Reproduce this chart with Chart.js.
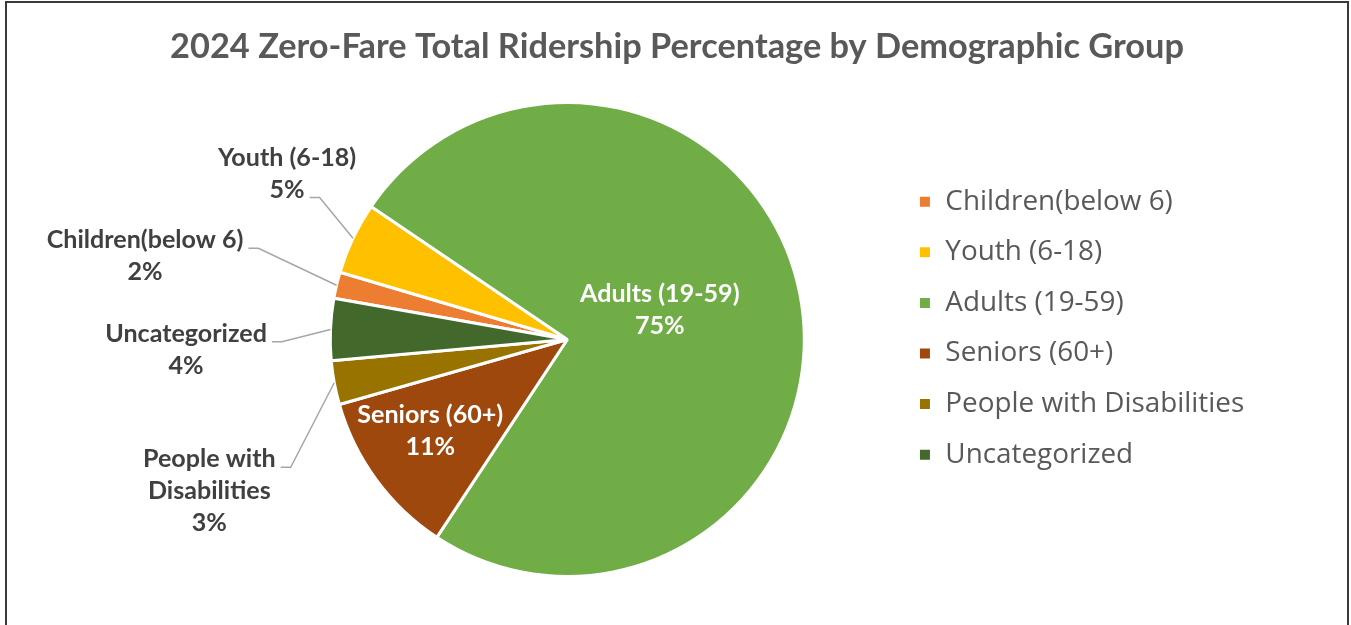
<!DOCTYPE html>
<html>
<head>
<meta charset="utf-8">
<script src="https://cdn.jsdelivr.net/npm/chart.js@4/dist/chart.umd.min.js"></script>
<style>
  html, body { margin: 0; padding: 0; background: #ffffff; overflow: hidden; width: 1351px; height: 625px; }
  #frame { position: absolute; left: 5px; top: 1px; width: 1340px; height: 640px;
           border: 2px solid #3a3a3a; border-bottom: none; background: #ffffff; }
  canvas { display: block; }
</style>
</head>
<body>
<div id="frame"><canvas id="c" width="1340" height="622" style="width:1340px;height:622px"></canvas></div>
<script>
// ---------------- data ----------------
const TITLE = '2024 Zero-Fare Total Ridership Percentage by Demographic Group';
const categories = ['Children(below 6)', 'Youth (6-18)', 'Adults (19-59)', 'Seniors (60+)', 'People with Disabilities', 'Uncategorized'];
const shares = [1.8, 4.9, 74.8, 11.3, 3.0, 4.2];
const sliceColors = ['#ED7D31', '#FFC000', '#70AD47', '#9E480E', '#997300', '#43682B'];

// ---------------- layout / style ----------------
const FONT = 'Lato, "Open Sans", sans-serif';
const LEGEND_FONT = '"Open Sans", Lato, sans-serif';
const CANVAS_W = 1340, CANVAS_H = 622;
const PIE_CX = 560.2, PIE_CY = 336.5, PIE_R = 238.5;   // chart-area half height (incl. border)
const LEGEND_BOX_X = 911.3, LEGEND_STEP = 50.6, LEGEND_FIRST_MID = 198.7;
const LINE_H = 31.8;
// label placement: offset of the first line's baseline from the pie centre
const LABEL_LAYOUT = [
  { dx: -422.2, dy: -91.2, attach: 0 },
  { dx: -280.2, dy: -173.8, attach: 1 },
  { dx: 92.5, dy: -37.8, inside: true },
  { dx: -137.0, dy: 83.8, inside: true },
  { dx: -357.9, dy: 127.8, attach: 0, wrap: 160 },
  { dx: -381.2, dy: 2.2, attach: 0 }
];

function fitSize(text, weight, family, target) {
  const c = document.createElement('canvas').getContext('2d');
  c.font = weight + ' 100px ' + family;
  return 100 * target / c.measureText(text).width;
}

function wrapText(ctx, text, maxW) {
  if (!maxW) return [text];
  const words = text.split(' ');
  const lines = [];
  let cur = '';
  words.forEach(w => {
    const t = cur ? cur + ' ' + w : w;
    if (cur && ctx.measureText(t).width > maxW) { lines.push(cur); cur = w; }
    else cur = t;
  });
  if (cur) lines.push(cur);
  return lines;
}

// empty layout box used to reserve horizontal space beside the chart area
function spacer(position, size, weight) {
  return {
    position: position, weight: weight, fullSize: false,
    options: { display: false, stackWeight: 1 },
    width: 0, height: 0, left: 0, top: 0, right: 0, bottom: 0,
    isHorizontal() { return false; },
    update(maxWidth, maxHeight) { this.width = size; this.height = maxHeight; },
    draw() {}
  };
}

function build() {
  const TITLE_FS = fitSize(TITLE, 'bold', FONT, 1014);
  const LABEL_FS = fitSize('Children(below 6)', 'bold', FONT, 196.7);
  const LEGEND_TEXT_W = 299;
  const LEGEND_FS = fitSize('People with Disabilities', 'normal', LEGEND_FONT, LEGEND_TEXT_W);

  const titleLH = TITLE_FS * 1.2;
  const titlePadTop = 43.7 - titleLH / 2;
  const chartTop = PIE_CY - PIE_R;
  const chartBottom = PIE_CY + PIE_R;
  const titlePadBottom = chartTop - titlePadTop - titleLH;

  const itemH = Math.max(LEGEND_FS, 13);
  const legendPad = LEGEND_STEP - itemH;
  const legendLeft = LEGEND_BOX_X - legendPad;
  const legendWidth = legendPad + 13 + LEGEND_FS / 2 + LEGEND_TEXT_W + 10;
  const leftSpace = 2 * PIE_CX - legendLeft;
  const rightSpace = CANVAS_W - legendLeft - legendWidth;
  const padBottom = CANVAS_H - chartBottom;
  const legendTitleH = LEGEND_FIRST_MID - itemH / 2 - legendPad - chartTop;

  const spacerPlugin = {
    id: 'spacers',
    beforeInit(chart) {
      Chart.layouts.addBox(chart, spacer('left', leftSpace, 0));
      Chart.layouts.addBox(chart, spacer('right', rightSpace, 5000));
    }
  };

  const labelPlugin = {
    id: 'sliceLabels',
    afterDatasetsDraw(chart) {
      const meta = chart.getDatasetMeta(0);
      const ds = chart.data.datasets[0];
      const total = ds.data.reduce((a, b) => a + b, 0);
      const ctx = chart.ctx;
      ctx.save();
      ctx.font = 'bold ' + LABEL_FS + 'px ' + FONT;
      ctx.textAlign = 'center';
      ctx.textBaseline = 'alphabetic';
      meta.data.forEach((arc, i) => {
        const p = arc.getProps(['x', 'y', 'startAngle', 'endAngle', 'outerRadius'], true);
        const cfg = LABEL_LAYOUT[i];
        const pct = Math.round(ds.data[i] / total * 100) + '%';
        const lines = wrapText(ctx, chart.data.labels[i], cfg.wrap).concat([pct]);
        const cx = p.x + cfg.dx, by = p.y + cfg.dy;
        if (!cfg.inside) {
          const t = lines[cfg.attach];
          const w = ctx.measureText(t).width;
          const sx = cx + w / 2 + 5, sy = by + cfg.attach * LINE_H;
          const mid = (p.startAngle + p.endAngle) / 2;
          const ex = p.x + Math.cos(mid) * p.outerRadius;
          const ey = p.y + Math.sin(mid) * p.outerRadius;
          ctx.beginPath();
          ctx.moveTo(sx, sy);
          ctx.lineTo(sx + 10, sy);
          ctx.lineTo(ex, ey);
          ctx.strokeStyle = '#a6a6a6';
          ctx.lineWidth = 1.5;
          ctx.stroke();
        }
        ctx.fillStyle = cfg.inside ? '#ffffff' : '#404040';
        lines.forEach((t, k) => ctx.fillText(t, cx, by + k * LINE_H));
      });
      ctx.restore();
    }
  };

  new Chart(document.getElementById('c'), {
    type: 'pie',
    data: {
      labels: categories,
      datasets: [{
        data: shares,
        backgroundColor: sliceColors,
        borderColor: '#ffffff',
        borderWidth: 3,
        hoverBorderWidth: 3,
        hoverOffset: 0
      }]
    },
    options: {
      responsive: false,
      animation: false,
      rotation: 280,
      layout: { padding: { left: 0, right: 0, top: 0, bottom: padBottom } },
      plugins: {
        tooltip: { enabled: false },
        title: {
          display: true,
          text: TITLE,
          color: '#595959',
          font: { family: FONT, size: TITLE_FS, weight: 'bold', lineHeight: 1.2 },
          padding: { top: titlePadTop, bottom: titlePadBottom }
        },
        legend: {
          display: true,
          position: 'right',
          align: 'start',
          fullSize: false,
          title: { display: true, text: '', font: { size: 12, lineHeight: 1.2 },
                   padding: { top: legendTitleH - 14.4, bottom: 0 } },
          labels: {
            boxWidth: 13,
            boxHeight: 13,
            padding: legendPad,
            color: '#595959',
            font: { family: LEGEND_FONT, size: LEGEND_FS, weight: 'normal' }
          }
        }
      }
    },
    plugins: [spacerPlugin, labelPlugin]
  });
}

Promise.all([
  document.fonts.load('bold 20px Lato'),
  document.fonts.load('20px Lato'),
  document.fonts.load('20px "Open Sans"')
]).then(build, build);
</script>
</body>
</html>
